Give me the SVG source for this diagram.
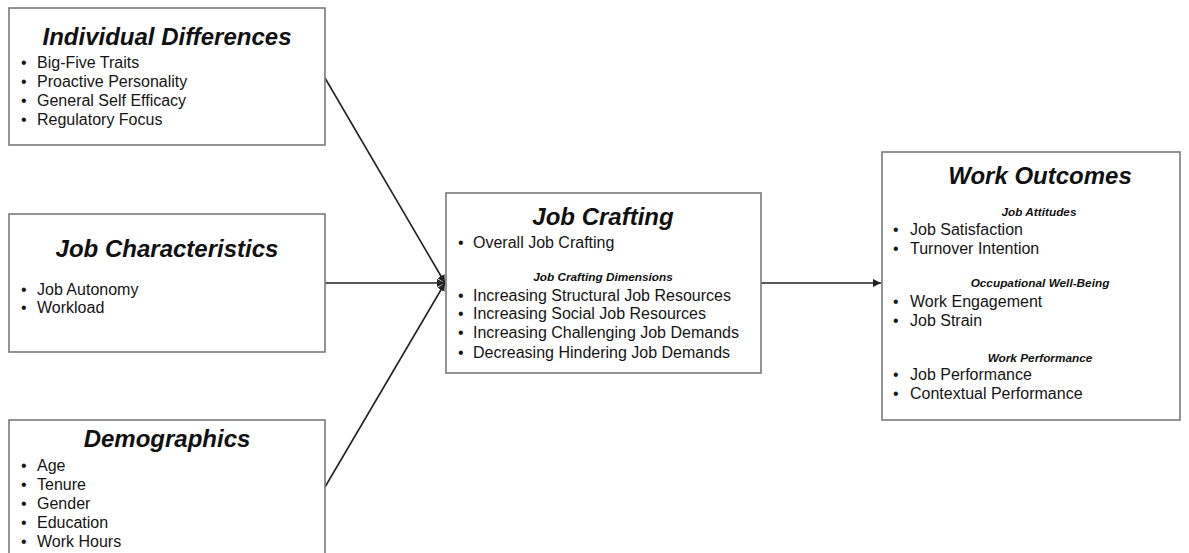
<svg xmlns="http://www.w3.org/2000/svg" width="1189" height="553" viewBox="0 0 1189 553">
  <defs>
    <style>
      .box { fill: #ffffff; stroke: #7a7a7a; stroke-width: 1.6; }
      .title { font-family: "Liberation Sans", Arial, sans-serif; font-weight: bold; font-style: italic; font-size: 24px; fill: #111; text-anchor: middle; }
      .sub { font-family: "Liberation Sans", Arial, sans-serif; font-weight: bold; font-style: italic; font-size: 11.8px; fill: #111; text-anchor: middle; }
      .item { font-family: "Liberation Sans", Arial, sans-serif; font-size: 16px; fill: #151515; }
      .wire { stroke: #222; stroke-width: 1.6; fill: none; }
    </style>
    <marker id="arrow" viewBox="0 0 10 10" refX="10" refY="5" markerWidth="8" markerHeight="8" markerUnits="userSpaceOnUse" orient="auto">
      <path d="M0,0 L10,5 L0,10 Z" fill="#222"/>
    </marker>
  </defs>

  <rect width="1189" height="553" fill="#ffffff"/>

  <g id="connectors">
    <line class="wire" x1="325" y1="78" x2="445" y2="283" marker-end="url(#arrow)"/>
    <line class="wire" x1="325" y1="283" x2="445" y2="283" marker-end="url(#arrow)"/>
    <line class="wire" x1="325" y1="487" x2="445" y2="283" marker-end="url(#arrow)"/>
    <line class="wire" x1="761" y1="283" x2="881" y2="283" marker-end="url(#arrow)"/>
  </g>

  <g id="individual-differences">
    <rect class="box" x="9" y="8" width="316" height="137"/>
    <text class="title" x="167" y="45">Individual Differences</text>
    <g class="item">
      <text x="21" y="68">•</text><text x="37" y="68">Big-Five Traits</text>
      <text x="21" y="87">•</text><text x="37" y="87">Proactive Personality</text>
      <text x="21" y="106">•</text><text x="37" y="106">General Self Efficacy</text>
      <text x="21" y="125">•</text><text x="37" y="125">Regulatory Focus</text>
    </g>
  </g>

  <g id="job-characteristics">
    <rect class="box" x="9" y="214" width="316" height="138"/>
    <text class="title" x="167" y="257">Job Characteristics</text>
    <g class="item">
      <text x="21" y="295">•</text><text x="37" y="295">Job Autonomy</text>
      <text x="21" y="313">•</text><text x="37" y="313">Workload</text>
    </g>
  </g>

  <g id="demographics">
    <rect class="box" x="9" y="420" width="316" height="150"/>
    <text class="title" x="167" y="447">Demographics</text>
    <g class="item">
      <text x="21" y="471">•</text><text x="37" y="471">Age</text>
      <text x="21" y="490">•</text><text x="37" y="490">Tenure</text>
      <text x="21" y="509">•</text><text x="37" y="509">Gender</text>
      <text x="21" y="528">•</text><text x="37" y="528">Education</text>
      <text x="21" y="547">•</text><text x="37" y="547">Work Hours</text>
    </g>
  </g>

  <g id="job-crafting">
    <rect class="box" x="446" y="193" width="315" height="180"/>
    <text class="title" x="603" y="225">Job Crafting</text>
    <g class="item">
      <text x="458" y="248">•</text><text x="473" y="248">Overall Job Crafting</text>
    </g>
    <text class="sub" x="603" y="281">Job Crafting Dimensions</text>
    <g class="item">
      <text x="458" y="301">•</text><text x="473" y="301">Increasing Structural Job Resources</text>
      <text x="458" y="319">•</text><text x="473" y="319">Increasing Social Job Resources</text>
      <text x="458" y="338">•</text><text x="473" y="338">Increasing Challenging Job Demands</text>
      <text x="458" y="358">•</text><text x="473" y="358">Decreasing Hindering Job Demands</text>
    </g>
  </g>

  <g id="work-outcomes">
    <rect class="box" x="882" y="152" width="298" height="268"/>
    <text class="title" x="1040" y="184">Work Outcomes</text>
    <text class="sub" x="1039" y="216">Job Attitudes</text>
    <g class="item">
      <text x="893" y="235">•</text><text x="910" y="235">Job Satisfaction</text>
      <text x="893" y="254">•</text><text x="910" y="254">Turnover Intention</text>
    </g>
    <text class="sub" x="1040" y="287">Occupational Well-Being</text>
    <g class="item">
      <text x="893" y="307">•</text><text x="910" y="307">Work Engagement</text>
      <text x="893" y="326">•</text><text x="910" y="326">Job Strain</text>
    </g>
    <text class="sub" x="1040" y="362">Work Performance</text>
    <g class="item">
      <text x="893" y="380">•</text><text x="910" y="380">Job Performance</text>
      <text x="893" y="399">•</text><text x="910" y="399">Contextual Performance</text>
    </g>
  </g>
</svg>
